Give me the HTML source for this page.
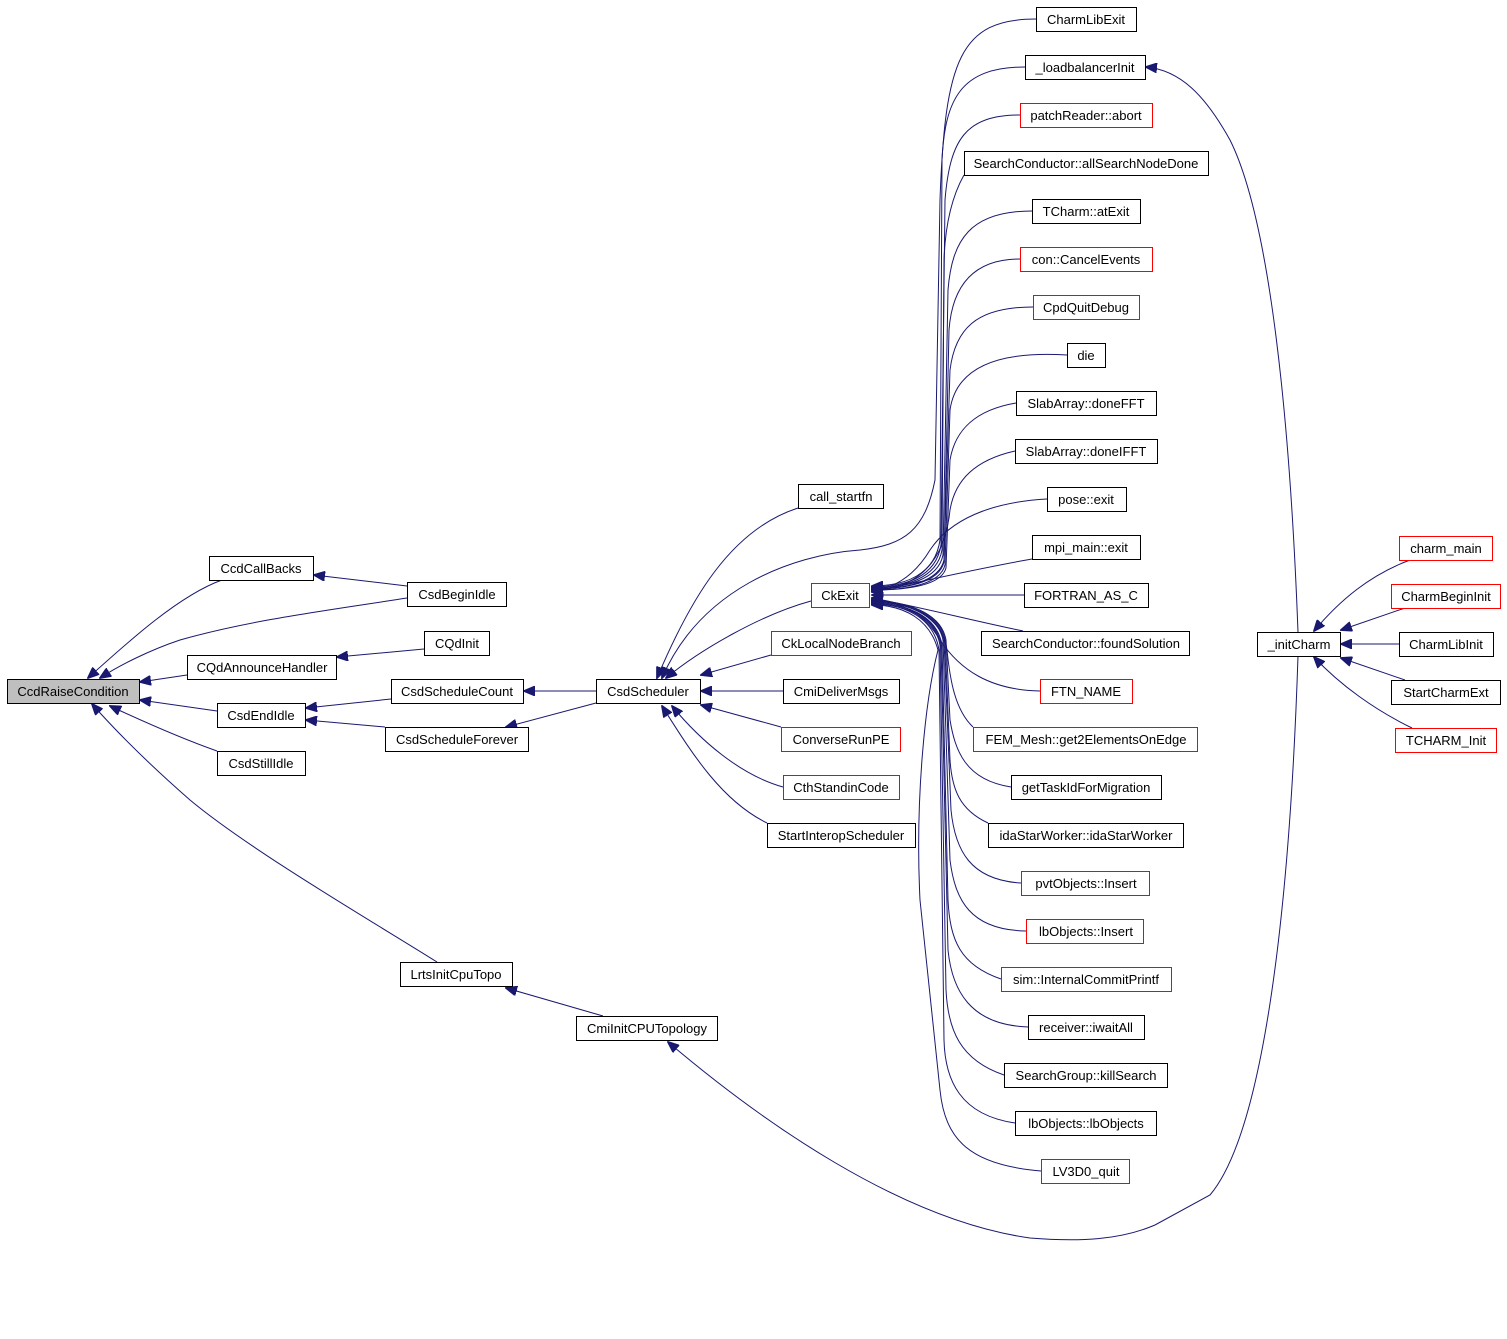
<!DOCTYPE html>
<html><head><meta charset="utf-8"><style>
html,body{margin:0;padding:0;background:#fff;}
svg{display:block;}
text{font-family:"Liberation Sans",sans-serif;font-size:13px;fill:#000;}
rect{fill:#fff;stroke:#000;stroke-width:1;}
rect.r{stroke:#f00;}
rect.g{fill:#bfbfbf;}
path{fill:none;stroke:#191970;stroke-width:1;}
</style></head><body>
<svg width="1507" height="1339" viewBox="0 0 1507 1339" xmlns="http://www.w3.org/2000/svg">
<defs><marker id="a" markerWidth="12" markerHeight="10" refX="11" refY="5" orient="auto" markerUnits="userSpaceOnUse"><path d="M0,0 L12,5 L0,10 Z" style="fill:#191970;stroke:#191970"/></marker></defs>
<g marker-end="url(#a)">
<!-- left cluster -->
<path d="M222,580 C180,595 130,640 88,678"/>
<path d="M407,598 C330,610 250,620 180,640 C150,650 120,665 100,678"/>
<path d="M187,675 L140,682"/>
<path d="M217,711 L140,700"/>
<path d="M217,751 C180,738 140,720 110,706"/>
<path d="M437,962 C370,920 250,850 190,800 C150,765 115,730 92,704"/>
<path d="M407,586 L314,575"/>
<path d="M424,649 L337,657"/>
<path d="M391,699 L306,708"/>
<path d="M385,727 L306,720"/>
<path d="M596,691 L524,691"/>
<path d="M596,703 L506,727"/>
<path d="M603,1016 L506,988"/>
<!-- CsdScheduler callers -->
<path d="M798,508 C730,530 690,600 657,678"/>
<path d="M811,601 C760,615 700,650 666,678"/>
<path d="M1036,19 C960,19 945,60 940,200 L935,480 C925,530 905,545 860,550 C790,555 700,590 662,678"/>
<path d="M771,655 L701,675"/>
<path d="M783,691 L701,691"/>
<path d="M781,727 L701,705"/>
<path d="M783,787 C740,775 700,740 672,706"/>
<path d="M767,823 C720,800 690,750 662,706"/>
<!-- CkExit callers -->
<path d="M1025,67 C960,67 945,100 942,160 L940,540 C935,575 905,586 872,586"/>
<path d="M1020,115 C965,115 950,140 945,200 L941,545 C936,577 905,587 872,587"/>
<path d="M964,175 C950,200 945,230 944,260 L942,550 C937,578 905,588 872,588"/>
<path d="M1032,211 C970,211 952,240 948,290 L943,555 C938,580 905,588 872,588"/>
<path d="M1020,259 C970,259 952,290 949,330 L944,560 C939,582 905,589 872,589"/>
<path d="M1033,307 C975,307 955,330 950,370 L944,562 C939,583 905,589 872,589"/>
<path d="M1067,355 C985,350 955,375 950,410 L945,565 C940,585 905,590 872,590"/>
<path d="M1016,403 C975,410 955,430 950,460 L946,568 C941,586 905,590 872,590"/>
<path d="M1015,451 C975,460 955,480 950,510 C945,560 920,588 872,591"/>
<path d="M1047,499 C990,502 950,520 930,550 C915,575 895,588 872,591"/>
<path d="M1032,559 C970,570 920,582 872,592"/>
<path d="M1024,595 L872,595"/>
<path d="M1023,631 C970,620 920,607 872,598"/>
<path d="M1040,691 C990,690 960,670 940,640 C925,615 905,603 872,599"/>
<path d="M973,727 C955,710 950,680 947,650 C942,615 905,601 872,600"/>
<path d="M1011,787 C965,780 955,750 950,720 L946,640 C941,612 905,601 872,601"/>
<path d="M988,823 C960,810 952,790 950,760 L945,640 C940,612 905,601 872,601"/>
<path d="M1021,883 C970,880 955,850 951,810 L944,640 C939,613 905,602 872,602"/>
<path d="M1026,931 C970,930 955,900 950,860 L943,640 C938,614 905,602 872,602"/>
<path d="M1001,979 C960,965 950,940 948,900 L942,645 C937,615 905,603 872,603"/>
<path d="M1028,1027 C970,1025 952,990 948,950 L941,645 C936,616 905,603 872,603"/>
<path d="M1004,1075 C960,1060 948,1030 946,990 L940,645 C935,617 905,604 872,604"/>
<path d="M1015,1123 C960,1115 945,1080 944,1040 L939,650 C934,618 905,604 872,604"/>
<path d="M1041,1171 C970,1165 945,1140 940,1090 L920,900 C915,800 925,700 938,650 C930,620 905,605 872,605"/>
<!-- _initCharm -->
<path d="M1298,632 C1290,420 1270,220 1230,140 C1205,95 1180,70 1146,67"/>
<path d="M1298,656 C1290,900 1265,1130 1210,1195 L1155,1225 C1120,1240 1080,1242 1030,1238 C900,1220 760,1120 668,1042"/>
<path d="M1410,560 C1370,575 1340,600 1314,631"/>
<path d="M1405,608 L1341,630"/>
<path d="M1399,644 L1341,644"/>
<path d="M1405,680 L1341,658"/>
<path d="M1412,728 C1375,710 1340,685 1314,657"/>
</g>
<!-- nodes -->
<rect class="g" x="7.5" y="679.5" width="132" height="24"/><text x="73" y="696" text-anchor="middle">CcdRaiseCondition</text>
<rect x="209.5" y="556.5" width="104" height="24"/><text x="261" y="573" text-anchor="middle">CcdCallBacks</text>
<rect x="407.5" y="582.5" width="99" height="24"/><text x="457" y="599" text-anchor="middle">CsdBeginIdle</text>
<rect x="424.5" y="631.5" width="65" height="24"/><text x="457" y="648" text-anchor="middle">CQdInit</text>
<rect x="187.5" y="655.5" width="149" height="24"/><text x="262" y="672" text-anchor="middle">CQdAnnounceHandler</text>
<rect x="391.5" y="679.5" width="132" height="24"/><text x="457" y="696" text-anchor="middle">CsdScheduleCount</text>
<rect x="217.5" y="703.5" width="88" height="24"/><text x="261" y="720" text-anchor="middle">CsdEndIdle</text>
<rect x="385.5" y="727.5" width="143" height="24"/><text x="457" y="744" text-anchor="middle">CsdScheduleForever</text>
<rect x="217.5" y="751.5" width="88" height="24"/><text x="261" y="768" text-anchor="middle">CsdStillIdle</text>
<rect x="400.5" y="962.5" width="112" height="24"/><text x="456" y="979" text-anchor="middle">LrtsInitCpuTopo</text>
<rect x="576.5" y="1016.5" width="141" height="24"/><text x="647" y="1033" text-anchor="middle">CmiInitCPUTopology</text>
<rect x="596.5" y="679.5" width="104" height="24"/><text x="648" y="696" text-anchor="middle">CsdScheduler</text>
<rect x="798.5" y="484.5" width="85" height="24"/><text x="841" y="501" text-anchor="middle">call_startfn</text>
<rect class="r" x="811.5" y="583.5" width="58" height="24"/><text x="840" y="600" text-anchor="middle">CkExit</text>
<rect class="r" x="771.5" y="631.5" width="140" height="24"/><text x="841" y="648" text-anchor="middle">CkLocalNodeBranch</text>
<rect x="783.5" y="679.5" width="116" height="24"/><text x="841" y="696" text-anchor="middle">CmiDeliverMsgs</text>
<rect class="r" x="781.5" y="727.5" width="119" height="24"/><text x="841" y="744" text-anchor="middle">ConverseRunPE</text>
<rect class="r" x="783.5" y="775.5" width="116" height="24"/><text x="841" y="792" text-anchor="middle">CthStandinCode</text>
<rect x="767.5" y="823.5" width="148" height="24"/><text x="841" y="840" text-anchor="middle">StartInteropScheduler</text>
<rect x="1036.5" y="7.5" width="100" height="24"/><text x="1086" y="24" text-anchor="middle">CharmLibExit</text>
<rect x="1025.5" y="55.5" width="120" height="24"/><text x="1085" y="72" text-anchor="middle">_loadbalancerInit</text>
<rect class="r" x="1020.5" y="103.5" width="132" height="24"/><text x="1086" y="120" text-anchor="middle">patchReader::abort</text>
<rect x="964.5" y="151.5" width="244" height="24"/><text x="1086" y="168" text-anchor="middle">SearchConductor::allSearchNodeDone</text>
<rect x="1032.5" y="199.5" width="108" height="24"/><text x="1086" y="216" text-anchor="middle">TCharm::atExit</text>
<rect class="r" x="1020.5" y="247.5" width="132" height="24"/><text x="1086" y="264" text-anchor="middle">con::CancelEvents</text>
<rect class="r" x="1033.5" y="295.5" width="106" height="24"/><text x="1086" y="312" text-anchor="middle">CpdQuitDebug</text>
<rect x="1067.5" y="343.5" width="38" height="24"/><text x="1086" y="360" text-anchor="middle">die</text>
<rect x="1016.5" y="391.5" width="140" height="24"/><text x="1086" y="408" text-anchor="middle">SlabArray::doneFFT</text>
<rect x="1015.5" y="439.5" width="142" height="24"/><text x="1086" y="456" text-anchor="middle">SlabArray::doneIFFT</text>
<rect x="1047.5" y="487.5" width="79" height="24"/><text x="1086" y="504" text-anchor="middle">pose::exit</text>
<rect x="1032.5" y="535.5" width="108" height="24"/><text x="1086" y="552" text-anchor="middle">mpi_main::exit</text>
<rect x="1024.5" y="583.5" width="124" height="24"/><text x="1086" y="600" text-anchor="middle">FORTRAN_AS_C</text>
<rect x="981.5" y="631.5" width="208" height="24"/><text x="1086" y="648" text-anchor="middle">SearchConductor::foundSolution</text>
<rect class="r" x="1040.5" y="679.5" width="92" height="24"/><text x="1086" y="696" text-anchor="middle">FTN_NAME</text>
<rect class="r" x="973.5" y="727.5" width="224" height="24"/><text x="1086" y="744" text-anchor="middle">FEM_Mesh::get2ElementsOnEdge</text>
<rect x="1011.5" y="775.5" width="150" height="24"/><text x="1086" y="792" text-anchor="middle">getTaskIdForMigration</text>
<rect x="988.5" y="823.5" width="195" height="24"/><text x="1086" y="840" text-anchor="middle">idaStarWorker::idaStarWorker</text>
<rect class="r" x="1021.5" y="871.5" width="128" height="24"/><text x="1086" y="888" text-anchor="middle">pvtObjects::Insert</text>
<rect class="r" x="1026.5" y="919.5" width="117" height="24"/><text x="1086" y="936" text-anchor="middle">lbObjects::Insert</text>
<rect class="r" x="1001.5" y="967.5" width="170" height="24"/><text x="1086" y="984" text-anchor="middle">sim::InternalCommitPrintf</text>
<rect x="1028.5" y="1015.5" width="116" height="24"/><text x="1086" y="1032" text-anchor="middle">receiver::iwaitAll</text>
<rect x="1004.5" y="1063.5" width="163" height="24"/><text x="1086" y="1080" text-anchor="middle">SearchGroup::killSearch</text>
<rect x="1015.5" y="1111.5" width="141" height="24"/><text x="1086" y="1128" text-anchor="middle">lbObjects::lbObjects</text>
<rect class="r" x="1041.5" y="1159.5" width="88" height="24"/><text x="1086" y="1176" text-anchor="middle">LV3D0_quit</text>
<rect x="1257.5" y="632.5" width="83" height="24"/><text x="1299" y="649" text-anchor="middle">_initCharm</text>
<rect class="r" x="1399.5" y="536.5" width="93" height="24"/><text x="1446" y="553" text-anchor="middle">charm_main</text>
<rect class="r" x="1391.5" y="584.5" width="109" height="24"/><text x="1446" y="601" text-anchor="middle">CharmBeginInit</text>
<rect x="1399.5" y="632.5" width="94" height="24"/><text x="1446" y="649" text-anchor="middle">CharmLibInit</text>
<rect x="1391.5" y="680.5" width="109" height="24"/><text x="1446" y="697" text-anchor="middle">StartCharmExt</text>
<rect class="r" x="1395.5" y="728.5" width="101" height="24"/><text x="1446" y="745" text-anchor="middle">TCHARM_Init</text>
</svg>
</body></html>
